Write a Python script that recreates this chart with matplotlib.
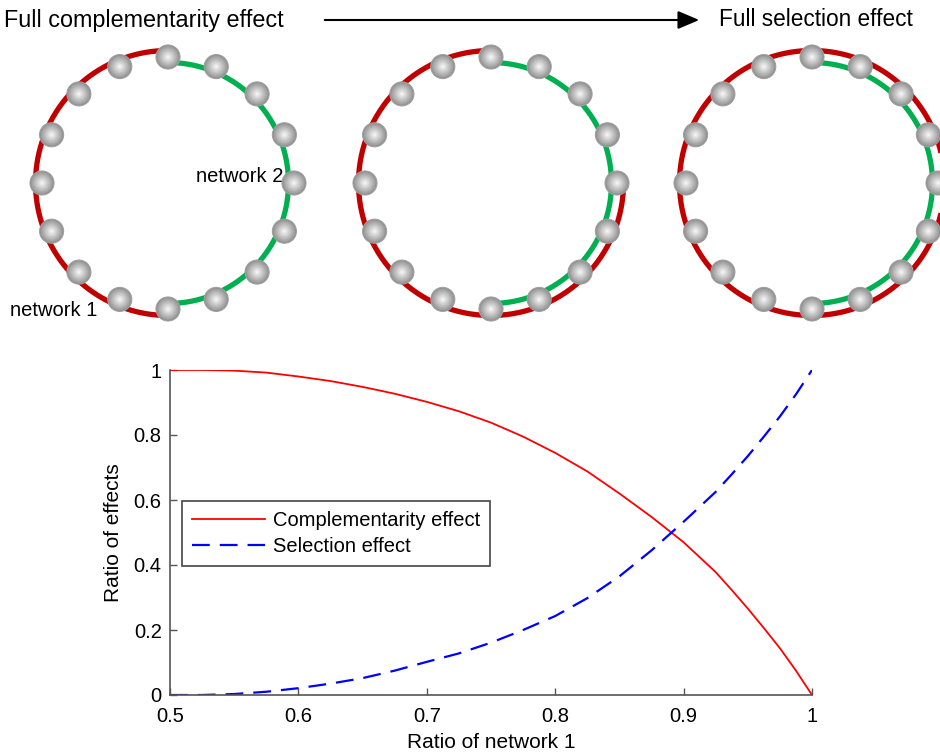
import numpy as np
import matplotlib
matplotlib.use("Agg")
import matplotlib.pyplot as plt
from matplotlib.patches import Circle, FancyArrowPatch

plt.rcParams['font.family'] = ['Liberation Sans', 'DejaVu Sans']

# ---------------- data ----------------
ratio_network1 = [0.5, 0.525, 0.55, 0.575, 0.6, 0.625, 0.65, 0.675, 0.7, 0.725,
                  0.75, 0.775, 0.8, 0.825, 0.85, 0.875, 0.9, 0.925, 0.9375, 0.95,
                  0.9625, 0.975, 0.9875, 1.0]
complementarity = [1.0, 1.0, 0.998, 0.992, 0.980, 0.966, 0.948, 0.927, 0.902, 0.873,
                   0.838, 0.795, 0.745, 0.688, 0.620, 0.548, 0.470, 0.378, 0.323, 0.266,
                   0.206, 0.144, 0.075, 0.0]
selection = [0.0, 0.0, 0.003, 0.010, 0.021, 0.035, 0.052, 0.075, 0.102, 0.128,
             0.161, 0.200, 0.243, 0.298, 0.365, 0.445, 0.533, 0.625, 0.679, 0.735,
             0.795, 0.857, 0.925, 1.0]
x_ticks = [0.5, 0.6, 0.7, 0.8, 0.9, 1.0]
x_tick_labels = ['0.5', '0.6', '0.7', '0.8', '0.9', '1']
y_ticks = [0, 0.2, 0.4, 0.6, 0.8, 1.0]
y_tick_labels = ['0', '0.2', '0.4', '0.6', '0.8', '1']
series_labels = ['Complementarity effect', 'Selection effect']

# schematic: 16 nodes per ring; arc spans (deg) per panel
n_nodes = 16
red_arc_span = [180, 270, 360]
green_arc_span = [180, 180, 180]

# ---------------- figure ----------------
W, H = 940, 754
fig = plt.figure(figsize=(W / 100, H / 100), dpi=100)

top = fig.add_axes([0, 0, 1, 1])
top.set_xlim(0, W)
top.set_ylim(H, 0)
top.set_aspect('equal')
top.axis('off')

red_c = '#C00000'
green_c = '#00B050'
centers = [(168, 183), (491, 183), (812, 183)]
R_node, R_red, R_green = 126, 132.5, 120.5
r_ball = 12

def ball(x, y):
    top.add_patch(Circle((x, y), r_ball, facecolor='#8c8c8c', edgecolor='#a0a0a0', lw=0.8, zorder=5))
    steps = 10
    for i in range(1, steps + 1):
        f = i / steps
        rr = r_ball * (1 - 0.92 * f)
        g = 0.58 + 0.38 * f
        top.add_patch(Circle((x, y), rr, facecolor=(g, g, g), edgecolor='none', zorder=5 + i * 0.01))

for (cx, cy), rs, gs in zip(centers, red_arc_span, green_arc_span):
    th = np.radians(np.linspace(90, 90 + rs, 300))
    top.plot(cx + R_red * np.cos(th), cy - R_red * np.sin(th), color=red_c, lw=3.8,
             solid_capstyle='butt', zorder=2)
    th = np.radians(np.linspace(90, 90 - gs, 300))
    top.plot(cx + R_green * np.cos(th), cy - R_green * np.sin(th), color=green_c, lw=3.8,
             solid_capstyle='butt', zorder=2)
    for k in range(n_nodes):
        a = np.radians(90 + k * 360 / n_nodes)
        ball(cx + R_node * np.cos(a), cy - R_node * np.sin(a))

top.text(283, 176, 'network 2', ha='right', va='center', fontsize=14.5)
top.text(10, 310, 'network 1', ha='left', va='center', fontsize=14.5)
top.text(4, 20, 'Full complementarity effect', ha='left', va='center', fontsize=16.8)
top.text(913, 20, 'Full selection effect', ha='right', va='center', fontsize=16.3)
top.add_patch(FancyArrowPatch((322, 20), (702, 20), arrowstyle='-|>,head_length=13,head_width=5.5',
                              mutation_scale=1, color='black', lw=1.5))

# ---------------- line plot ----------------
ax = fig.add_axes([170 / W, 1 - 695 / H, 642 / W, 325 / H])
ax.plot(ratio_network1, complementarity, color='#FF0000', lw=1.3, label=series_labels[0])
ax.plot(ratio_network1, selection, color='#0000FF', lw=1.6, ls=(0, (8, 4.5)), label=series_labels[1])
ax.set_xlim(0.5, 1.0)
ax.set_ylim(0, 1.0)
ax.set_xticks(x_ticks)
ax.set_xticklabels(x_tick_labels)
ax.set_yticks(y_ticks)
ax.set_yticklabels(y_tick_labels)
ax.tick_params(direction='in', length=5, labelsize=14.5, width=1, color='#555555')
ax.tick_params(axis='x', pad=9)
ax.tick_params(axis='y', pad=6)
for s in ['top', 'right']:
    ax.spines[s].set_visible(False)
for s in ['left', 'bottom']:
    ax.spines[s].set_color('#555555')
    ax.spines[s].set_linewidth(1.2)
ax.set_xlabel('Ratio of network 1', fontsize=15, labelpad=5)
ax.set_ylabel('Ratio of effects', fontsize=15, labelpad=8)
ax.patch.set_alpha(0)
leg = ax.legend(loc='upper left', bbox_to_anchor=(0.0187, 0.597), borderaxespad=0,
                fancybox=False, edgecolor='#444444', fontsize=14.5, handlelength=3.6,
                handletextpad=0.4, borderpad=0.5, labelspacing=0.35, framealpha=1)
leg.get_frame().set_linewidth(1.2)

fig.savefig('out.png', dpi=100)
